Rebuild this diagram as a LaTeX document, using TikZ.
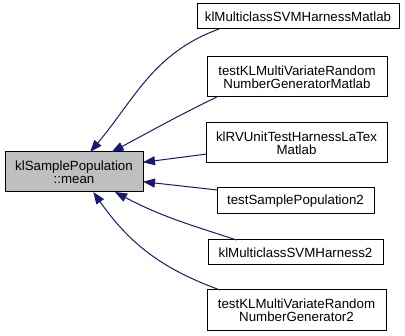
\documentclass[tikz,border=0pt]{standalone}
\usepackage{fontspec}
\setmainfont{Liberation Sans}
\usetikzlibrary{arrows.meta}
\definecolor{edgeblue}{RGB}{25,25,112}
\definecolor{fngrey}{RGB}{191,191,191}
\begin{document}
\begin{tikzpicture}[x=1pt,y=1pt,
	cls/.style 2 args={draw=black, line width=1pt, fill=white, align=center,
		minimum width=#1pt, minimum height=#2pt, inner sep=0pt, outer sep=0pt,
		font=\fontsize{13.3}{13.3}\selectfont},
	calls/.style={draw=edgeblue, line width=1pt,
		{Triangle[length=12pt,width=9pt]}-}]
	\useasboundingbox[fill=white] (0,0) rectangle (405,336);
	\node[cls={138}{40}, fill=fngrey] (mean) at (74,164) {klSamplePopulation\\::mean};
	\node[cls={202}{25}] (svmmatlab) at (298,319.5) {klMulticlassSVMHarnessMatlab};
	\node[cls={180}{40}] (rngmatlab) at (297,259) {testKLMultiVariateRandom\\NumberGeneratorMatlab};
	\node[cls={181}{40}] (rvunit) at (296.5,193) {klRVUnitTestHarnessLaTex\\Matlab};
	\node[cls={157}{26}] (samplepop) at (295.5,135) {testSamplePopulation2};
	\node[cls={175}{25}] (svm2) at (295.5,83.5) {klMulticlassSVMHarness2};
	\node[cls={179}{41}] (rng2) at (296.5,25.5) {testKLMultiVariateRandom\\NumberGenerator2};
	\draw[calls] (mean.51) to[out=50,in=200] (svmmatlab.189.7);
	\draw[calls] (mean.28) to[out=28,in=206] (rngmatlab.194.6);
	\draw[calls] (mean.8) -- (rvunit.187.6);
	\draw[calls] (mean.-8) -- (samplepop.172.7);
	\draw[calls] (mean.-26) to[out=-28,in=162] (svm2.168.3);
	\draw[calls] (mean.-46.5) to[out=-55,in=160] (rng2.165);
\end{tikzpicture}
\end{document}
